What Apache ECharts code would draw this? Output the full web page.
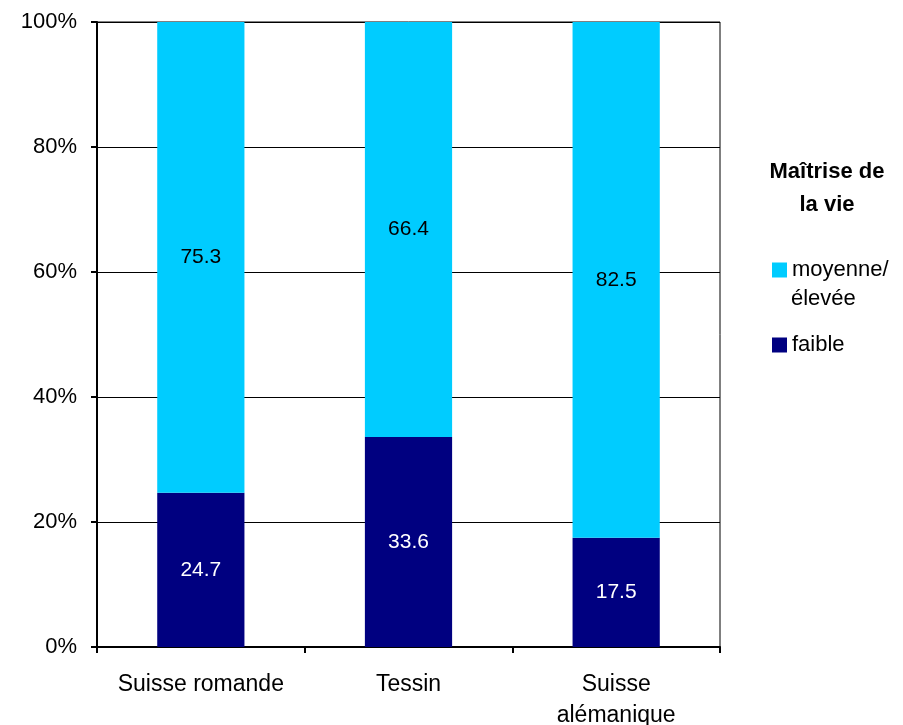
<!DOCTYPE html>
<html>
<head>
<meta charset="utf-8">
<script src="https://cdn.jsdelivr.net/npm/echarts@6/dist/echarts.min.js"></script>
<style>
  * { margin: 0; padding: 0; }
  body { background: #fff; }
  #main { width: 903px; height: 725px; }
</style>
</head>
<body>
<div id="main"></div>
<script>
  // régions et valeurs (%)
  var regions = ['Suisse romande', 'Tessin', 'Suisse\nalémanique']
  var faible = [24.7, 33.6, 17.5]
  var moyenne = [75.3, 66.4, 82.5]
  var seriesNames = ['faible', 'moyenne/élevée']

  var font = 'Liberation Sans, Arial, sans-serif'
  var chart = echarts.init(document.getElementById('main'))
  var labelFmt = function (p) { return p.value.toFixed(1) }
  var legendText = { fontFamily: font, fontSize: 22, color: '#000' }
  var option = {
    animation: false,
    textStyle: { fontFamily: font },
    title: {
      text: 'Maîtrise de\nla vie',
      left: 822,
      top: 150,
      textAlign: 'center',
      textStyle: { fontFamily: font, fontSize: 22, fontWeight: 'bold', color: '#000', lineHeight: 33 }
    },
    // deux légendes pour garder le carré sur la première ligne de "moyenne/ élevée"
    legend: [
      {
        data: [seriesNames[1]],
        left: 767,
        top: 254,
        itemWidth: 15,
        itemHeight: 15,
        icon: 'rect',
        formatter: function () { return 'moyenne/' },
        textStyle: legendText
      },
      {
        data: [seriesNames[0]],
        left: 767,
        top: 329,
        itemWidth: 15,
        itemHeight: 15,
        icon: 'rect',
        textStyle: legendText
      }
    ],
    graphic: [{
      type: 'text',
      left: 791,
      top: 288,
      style: { text: 'élevée', font: '22px ' + font, fill: '#000' }
    }],
    grid: {
      left: 97,
      right: 183,
      top: 22,
      bottom: 78,
      outerBoundsMode: 'none',
      show: true,
      borderColor: '#000',
      borderWidth: 1
    },
    xAxis: {
      type: 'category',
      data: regions,
      axisLine: { lineStyle: { color: '#000', width: 2 } },
      axisTick: { show: true, interval: 0, length: 6, lineStyle: { color: '#000', width: 2 } },
      axisLabel: { interval: 0, color: '#000', fontSize: 23, margin: 22, lineHeight: 31, fontFamily: font }
    },
    yAxis: {
      type: 'value',
      min: 0,
      max: 100,
      interval: 20,
      axisLine: { show: true, lineStyle: { color: '#000', width: 2 } },
      axisTick: { show: true, length: 6, lineStyle: { color: '#000', width: 2 } },
      axisLabel: { color: '#000', fontSize: 22, margin: 20, formatter: '{value}%', fontFamily: font },
      splitLine: { lineStyle: { color: '#000', width: 1 } }
    },
    series: [
      {
        name: seriesNames[0],
        type: 'bar',
        stack: 'total',
        barWidth: '42%',
        data: faible,
        itemStyle: { color: '#000080' },
        label: { show: true, position: 'inside', color: '#fff', fontSize: 21, fontFamily: font, formatter: labelFmt }
      },
      {
        name: seriesNames[1],
        type: 'bar',
        stack: 'total',
        barWidth: '42%',
        data: moyenne,
        itemStyle: { color: '#00CCFF' },
        label: { show: true, position: 'inside', color: '#000', fontSize: 21, fontFamily: font, formatter: labelFmt }
      }
    ]
  }
  chart.setOption(option)
</script>
</body>
</html>
